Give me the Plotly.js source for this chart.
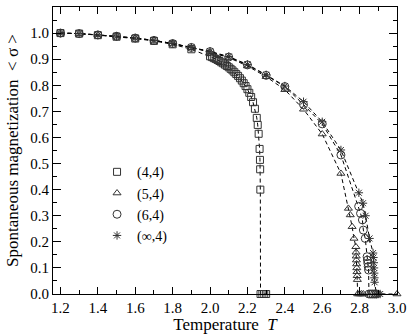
<!DOCTYPE html>
<html>
<head>
<meta charset="utf-8">
<script src="https://cdn.plot.ly/plotly-3.0.1.min.js"></script>
<style>
	html, body { margin: 0; padding: 0; background: #fff; }
	#chart { width: 409px; height: 334px; }
</style>
</head>
<body>
<div id="chart"></div>
<script>
// (4,4) lattice
const tSquare = [1.2, 1.3, 1.4, 1.5, 1.6, 1.7, 1.8, 1.9, 2.0, 2.01, 2.02, 2.03, 2.04, 2.05, 2.06, 2.07, 2.08, 2.09, 2.1, 2.11, 2.12, 2.13, 2.14, 2.15, 2.16, 2.17, 2.18, 2.19, 2.2, 2.21, 2.22, 2.23, 2.24, 2.25, 2.255, 2.26, 2.265, 2.267, 2.268, 2.269, 2.27, 2.28, 2.29, 2.3];
const mSquare = [1.0, 0.998, 0.992, 0.986, 0.979, 0.97, 0.957, 0.938, 0.911, 0.908, 0.904, 0.901, 0.897, 0.893, 0.888, 0.884, 0.879, 0.874, 0.869, 0.863, 0.857, 0.85, 0.843, 0.836, 0.827, 0.818, 0.808, 0.797, 0.785, 0.771, 0.755, 0.735, 0.71, 0.675, 0.648, 0.614, 0.556, 0.514, 0.478, 0.4, 0, 0, 0, 0];
// (5,4) lattice
const tTriangle = [1.2, 1.3, 1.4, 1.5, 1.6, 1.7, 1.8, 1.9, 2.0, 2.1, 2.2, 2.3, 2.4, 2.5, 2.6, 2.7, 2.74, 2.75, 2.76, 2.77, 2.78, 2.781, 2.782, 2.783, 2.784, 2.785, 2.786, 2.787, 2.788, 2.79, 2.8, 2.81, 2.82, 3.0];
const mTriangle = [1.0, 0.998, 0.993, 0.988, 0.981, 0.972, 0.96, 0.944, 0.927, 0.906, 0.874, 0.833, 0.783, 0.708, 0.613, 0.462, 0.328, 0.303, 0.258, 0.213, 0.181, 0.16, 0.145, 0.13, 0.115, 0.1, 0.085, 0.07, 0.055, 0, 0, 0, 0, 0];
// (6,4) lattice
const tCircle = [1.2, 1.3, 1.4, 1.5, 1.6, 1.7, 1.8, 1.9, 2.0, 2.1, 2.2, 2.3, 2.4, 2.5, 2.6, 2.7, 2.795, 2.805, 2.815, 2.82, 2.83, 2.84, 2.842, 2.844, 2.846, 2.848, 2.85, 2.86, 2.87, 2.88, 2.89];
const mCircle = [1.0, 0.998, 0.993, 0.988, 0.981, 0.972, 0.96, 0.945, 0.929, 0.908, 0.878, 0.838, 0.795, 0.726, 0.652, 0.533, 0.336, 0.309, 0.284, 0.245, 0.213, 0.143, 0.13, 0.118, 0.105, 0.092, 0, 0, 0, 0, 0];
// (inf,4) lattice
const tStar = [1.2, 1.3, 1.4, 1.5, 1.6, 1.7, 1.8, 1.9, 2.0, 2.1, 2.2, 2.3, 2.4, 2.5, 2.6, 2.7, 2.796, 2.818, 2.832, 2.853, 2.872, 2.874, 2.876, 2.877, 2.878, 2.879, 2.88, 2.89, 2.9, 2.91];
const mStar = [1.0, 0.998, 0.993, 0.988, 0.981, 0.972, 0.96, 0.945, 0.93, 0.91, 0.88, 0.84, 0.797, 0.737, 0.66, 0.552, 0.388, 0.348, 0.3, 0.213, 0.157, 0.14, 0.12, 0.1, 0.08, 0.062, 0.045, 0, 0, 0];

const seriesNames = ["(4,4)", "(5,4)", "(6,4)", "(∞,4)"];
const seriesSymbols = ["square-open", "triangle-up-open", "circle-open", "asterisk-open"];
const seriesSizes = [7, 7, 8, 7];

const xs = [tSquare, tTriangle, tCircle, tStar];
const ys = [mSquare, mTriangle, mCircle, mStar];

const traces = [];
xs.forEach((x, i) => {
	traces.push({
		x: x,
		y: ys[i],
		type: "scatter",
		mode: "lines",
		showlegend: false,
		line: { color: "#000", width: 1, dash: "4px,3px" },
		hoverinfo: "skip"
	});
});
xs.forEach((x, i) => {
	traces.push({
		x: x,
		y: ys[i],
		type: "scatter",
		mode: "markers",
		name: seriesNames[i],
		cliponaxis: false,
		marker: {
			symbol: seriesSymbols[i],
			size: seriesSizes[i],
			color: "#333",
			line: { color: "#333", width: 1 }
		}
	});
});

const serif = "'Liberation Serif', 'Times New Roman', serif";

const layout = {
	width: 409,
	height: 334,
	margin: { l: 53, r: 12, t: 7, b: 40 },
	paper_bgcolor: "#fff",
	plot_bgcolor: "#fff",
	font: { family: serif, size: 15, color: "#000" },
	showlegend: true,
	legend: {
		x: 0.128,
		y: 0.48,
		xanchor: "left",
		yanchor: "top",
		bgcolor: "rgba(0,0,0,0)",
		font: { family: serif, size: 14, color: "#000" },
		tracegroupgap: 0,
		itemwidth: 30
	},
	xaxis: {
		range: [1.16, 3.0],
		dtick: 0.2,
		tick0: 1.2,
		tickformat: ".1f",
		ticks: "inside",
		ticklen: 7,
		tickwidth: 1,
		tickcolor: "#000",
		minor: { dtick: 0.1, ticks: "inside", ticklen: 4, tickcolor: "#000" },
		showline: true,
		linecolor: "#000",
		linewidth: 1,
		mirror: "allticks",
		showgrid: false,
		zeroline: false,
		tickfont: { family: serif, size: 15 },
		title: { text: "Temperature  <i>T</i>", font: { family: serif, size: 17 }, standoff: 2 }
	},
	yaxis: {
		range: [0, 1.1],
		dtick: 0.1,
		tick0: 0,
		tickformat: ".1f",
		ticks: "inside",
		ticklen: 8,
		tickwidth: 1,
		tickcolor: "#000",
		minor: { dtick: 0.05, ticks: "inside", ticklen: 4, tickcolor: "#000" },
		showline: true,
		linecolor: "#000",
		linewidth: 1,
		mirror: "allticks",
		showgrid: false,
		zeroline: false,
		tickfont: { family: serif, size: 15 },
		title: { text: "Spontaneous magnetization  < σ >", font: { family: serif, size: 17 }, standoff: 7 }
	}
};

Plotly.newPlot("chart", traces, layout, { displayModeBar: false, staticPlot: true });
</script>
</body>
</html>
